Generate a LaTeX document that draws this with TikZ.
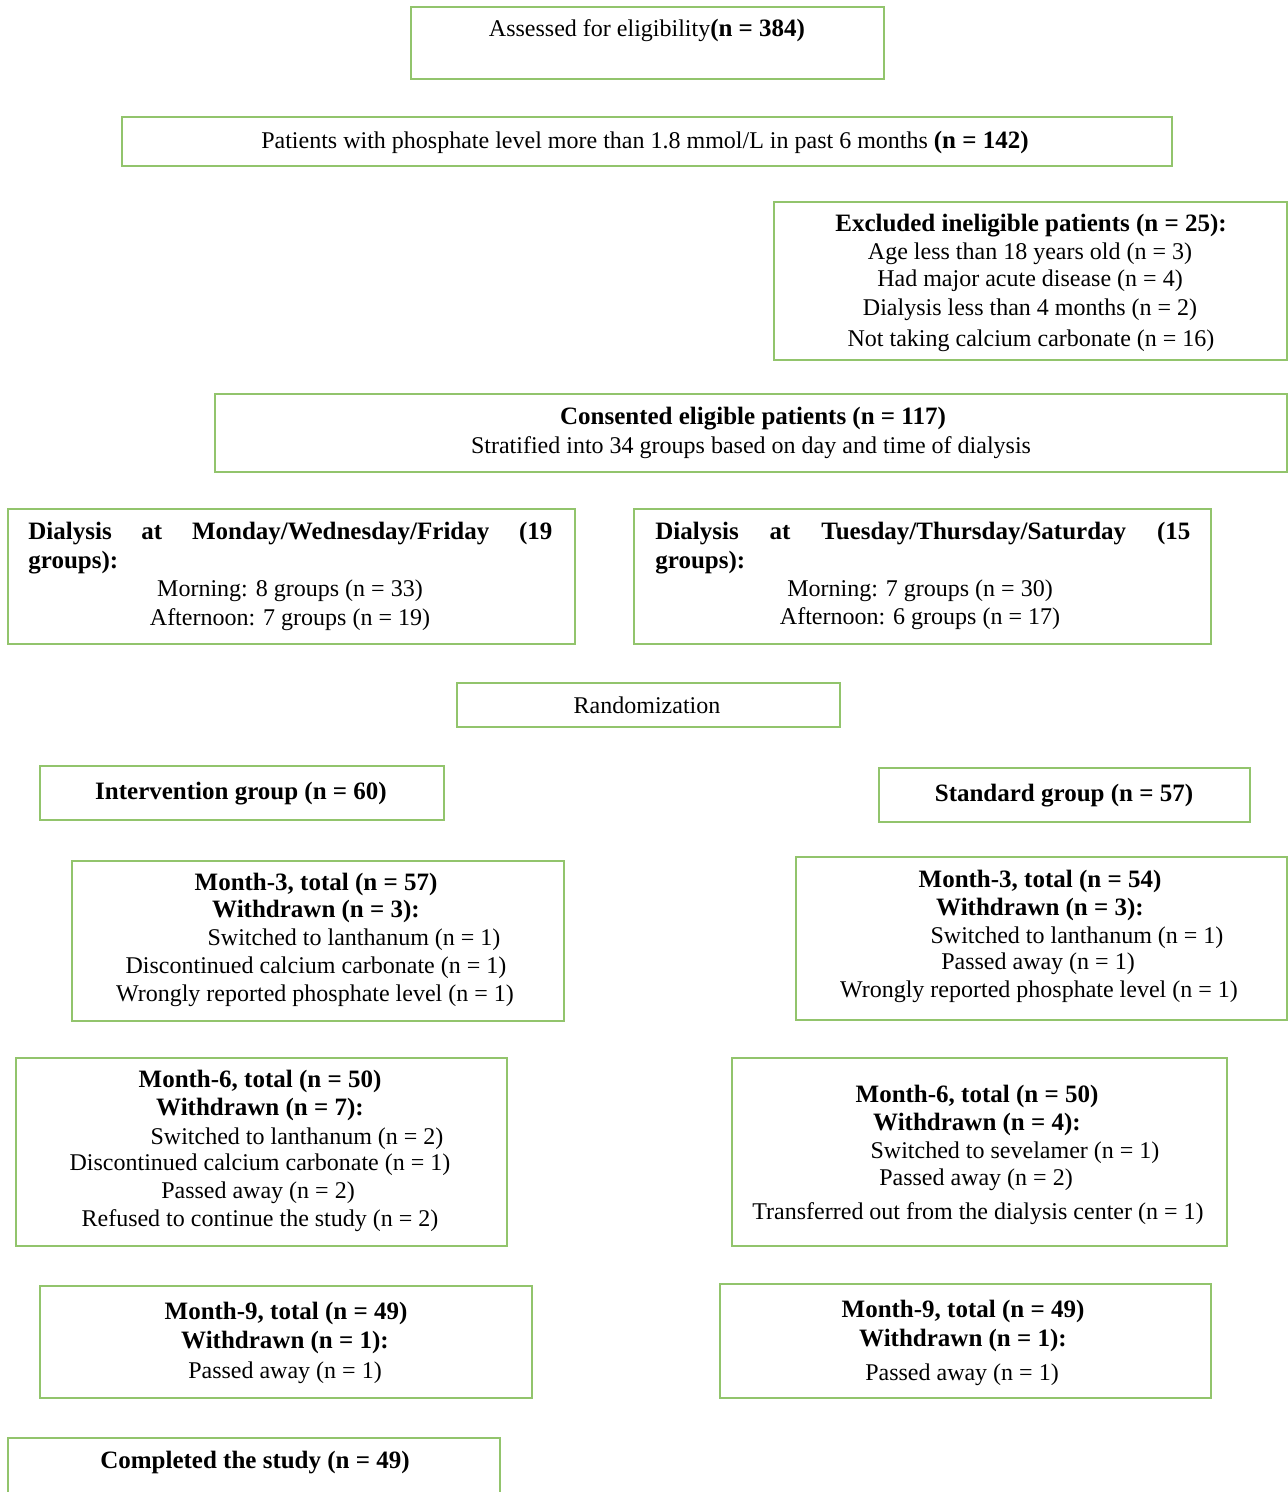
\documentclass[tikz,border=0pt]{standalone}
\usepackage{fontspec}
\setmainfont{Liberation Serif}
\usetikzlibrary{fit}
\definecolor{boxgreen}{RGB}{146,196,108}
\tikzset{
  box/.style={draw=boxgreen, line width=1pt, inner sep=0pt},
  txt/.style={inner sep=0pt, anchor=base, font=\fontsize{12}{14}\selectfont},
  btxt/.style={txt, font=\fontsize{12.5}{14}\selectfont\bfseries},
}
\begin{document}
\begin{tikzpicture}[x=0.5pt,y=-0.5pt]
\useasboundingbox[fill=white] (0,0) rectangle (1287,1492);
% boxes
\node[box, fit={(411,7) (884,79)}] (b1) {};
\node[box, fit={(122,117) (1172,166)}] (b2) {};
\node[box, fit={(774,202) (1287,360)}] (b3) {};
\node[box, fit={(215,394) (1287,472)}] (b4) {};
\node[box, fit={(8,509) (575,644)}] (b5) {};
\node[box, fit={(634,509) (1211,644)}] (b6) {};
\node[box, fit={(457,683) (840,727)}] (b7) {};
\node[box, fit={(40,766) (444,820)}] (b8) {};
\node[box, fit={(879,768) (1250,822)}] (b9) {};
\node[box, fit={(72,861) (564,1021)}] (b10) {};
\node[box, fit={(796,857) (1287,1020)}] (b11) {};
\node[box, fit={(16,1058) (507,1246)}] (b12) {};
\node[box, fit={(732,1058) (1227,1246)}] (b13) {};
\node[box, fit={(40,1286) (532,1398)}] (b14) {};
\node[box, fit={(720,1284) (1211,1398)}] (b15) {};
\node[box, fit={(8,1438) (500,1510)}] (b16) {};
% texts
\node[txt] (t1) at (647,37) {Assessed for eligibility{\fontsize{12.5}{14}\selectfont\bfseries(n = 384)}};
\node[txt] (t2) at (645,149) {Patients with phosphate level more than 1.8 mmol/L in past 6 months {\fontsize{12.5}{14}\selectfont\bfseries(n = 142)}};
\node[btxt] (t3a) at (1031,232) {Excluded ineligible patients (n = 25):};
\node[txt] (t3b) at (1030,260) {Age less than 18 years old (n = 3)};
\node[txt] (t3c) at (1030,287) {Had major acute disease (n = 4)};
\node[txt] (t3d) at (1030,315) {Dialysis less than 4 months (n = 2)};
\node[txt] (t3e) at (1031,346) {Not taking calcium carbonate (n = 16)};
\node[btxt] (t4a) at (753,424) {Consented eligible patients (n = 117)};
\node[txt] (t4b) at (751,453) {Stratified into 34 groups based on day and time of dialysis};
\node[btxt, anchor=base west] (t5a) at (28,539) {\makebox[262pt][s]{Dialysis\hfill at\hfill Monday/Wednesday/Friday\hfill (19}};
\node[btxt, anchor=base west] (t5b) at (28,568) {groups):};
\node[txt] (t5c) at (290,596) {Morning: 8 groups (n = 33)};
\node[txt] (t5d) at (290,625) {Afternoon: 7 groups (n = 19)};
\node[btxt, anchor=base west] (t6a) at (655,539) {\makebox[267.5pt][s]{Dialysis\hfill at\hfill Tuesday/Thursday/Saturday\hfill (15}};
\node[btxt, anchor=base west] (t6b) at (655,568) {groups):};
\node[txt] (t6c) at (920,596) {Morning: 7 groups (n = 30)};
\node[txt] (t6d) at (920,624) {Afternoon: 6 groups (n = 17)};
\node[txt] (t7) at (647,713) {Randomization};
\node[btxt] (t8) at (241,799) {Intervention group (n = 60)};
\node[btxt] (t9) at (1064,801) {Standard group (n = 57)};
\node[btxt] (t10a) at (316,890) {Month-3, total (n = 57)};
\node[btxt] (t10b) at (316,917) {Withdrawn (n = 3):};
\node[txt] (t10c) at (354,945) {Switched to lanthanum (n = 1)};
\node[txt] (t10d) at (316,973) {Discontinued calcium carbonate (n = 1)};
\node[txt] (t10e) at (315,1001) {Wrongly reported phosphate level (n = 1)};
\node[btxt] (t11a) at (1040,887) {Month-3, total (n = 54)};
\node[btxt] (t11b) at (1040,915) {Withdrawn (n = 3):};
\node[txt] (t11c) at (1077,943) {Switched to lanthanum (n = 1)};
\node[txt] (t11d) at (1038,969) {Passed away (n = 1)};
\node[txt] (t11e) at (1039,997) {Wrongly reported phosphate level (n = 1)};
\node[btxt] (t12a) at (260,1087) {Month-6, total (n = 50)};
\node[btxt] (t12b) at (260,1115) {Withdrawn (n = 7):};
\node[txt] (t12c) at (297,1144) {Switched to lanthanum (n = 2)};
\node[txt] (t12d) at (260,1170) {Discontinued calcium carbonate (n = 1)};
\node[txt] (t12e) at (258,1198) {Passed away (n = 2)};
\node[txt] (t12f) at (260,1226) {Refused to continue the study (n = 2)};
\node[btxt] (t13a) at (977,1102) {Month-6, total (n = 50)};
\node[btxt] (t13b) at (977,1130) {Withdrawn (n = 4):};
\node[txt] (t13c) at (1015,1158) {Switched to sevelamer (n = 1)};
\node[txt] (t13d) at (976,1185) {Passed away (n = 2)};
\node[txt] (t13e) at (978,1219) {Transferred out from the dialysis center (n = 1)};
\node[btxt] (t14a) at (286,1319) {Month-9, total (n = 49)};
\node[btxt] (t14b) at (285,1348) {Withdrawn (n = 1):};
\node[txt] (t14c) at (285,1378) {Passed away (n = 1)};
\node[btxt] (t15a) at (963,1317) {Month-9, total (n = 49)};
\node[btxt] (t15b) at (963,1346) {Withdrawn (n = 1):};
\node[txt] (t15c) at (962,1380) {Passed away (n = 1)};
\node[btxt] (t16) at (255,1468) {Completed the study (n = 49)};
\end{tikzpicture}
\end{document}
